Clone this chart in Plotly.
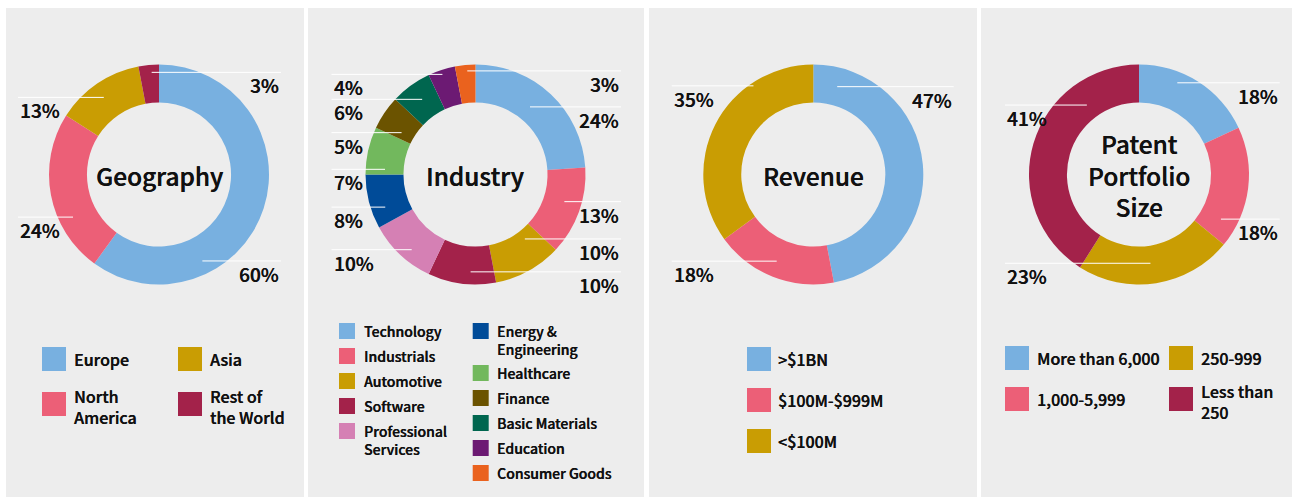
import math
import plotly.graph_objects as go

W, H = 1292, 497

# ---------------- data ----------------
geo_labels = ["Europe", "North America", "Asia", "Rest of the World"]
geo_values = [60, 24, 13, 3]

ind_labels = ["Technology", "Industrials", "Automotive", "Software", "Professional Services",
              "Energy & Engineering", "Healthcare", "Finance", "Basic Materials", "Education",
              "Consumer Goods"]
ind_values = [24, 13, 10, 10, 10, 8, 7, 5, 6, 4, 3]

rev_labels = [">$1BN", "$100M-$999M", "<$100M"]
rev_values = [47, 18, 35]

pat_labels = ["More than 6,000", "1,000-5,999", "250-999", "Less than 250"]
pat_values = [18, 18, 23, 41]

# legend wording (as wrapped in the design)
geo_legend_text = ["Europe", "North\nAmerica", "Asia", "Rest of\nthe World"]
ind_legend_text = ["Technology", "Industrials", "Automotive", "Software", "Professional\nServices",
                   "Energy &\nEngineering", "Healthcare", "Finance", "Basic Materials", "Education",
                   "Consumer Goods"]
rev_legend_text = [">$1BN", "$100M-$999M", "<$100M"]
pat_legend_text = ["More than 6,000", "1,000-5,999", "250-999", "Less than\n250"]

# ---------------- styles ----------------
BLUE, PINK, GOLD, MAROON = "#78B0E0", "#EC5F77", "#C99D03", "#A3224A"
LPINK, NAVY, GREEN, BROWN = "#D580B4", "#004B98", "#72B85D", "#6B5300"
DGREEN, PURPLE, ORANGE = "#00664F", "#6C1A73", "#EA621E"
PANEL_BG = "#EDEDED"
TXT = "#111111"
FONT = "Noto Sans CJK JP, Noto Sans, sans-serif"
SHADOW = "0.35px 0 0 #111111"   # slightly heavier (medium-like) strokes

R_OUT, HOLE = 110, 0.655
R_IN = R_OUT * HOLE

# label placement: (fraction along slice, fraction across ring, side)
panels = [
    dict(labels=geo_labels, values=geo_values, legend_text=geo_legend_text,
         colors=[BLUE, PINK, GOLD, MAROON], title=["Geography"],
         box=(6, 304), cx=159, cy=174.5, reach=(141, 122),
         place=[(0.71, 0.65, "R"), (0.32, 0.63, "L"), (0.47, 0.6, "L"), (0.62, 0.8, "R")],
         legend=dict(cols=[[0, 1], [2, 3]], colx=[42, 178], top=347, sq=24, pitch=45,
                     extra=0, font=16, gap=29.5, multi="center")),
    dict(labels=ind_labels, values=ind_values, legend_text=ind_legend_text,
         colors=[BLUE, PINK, GOLD, MAROON, LPINK, NAVY, GREEN, BROWN, DGREEN, PURPLE, ORANGE],
         title=["Industry"], box=(308, 644), cx=475.5, cy=174.5, reach=(144, 145.5),
         place=[(0.45, 0.39, "R"), (0.44, 0.55, "R"), (0.26, 0.24, "R"), (0.38, 0.67, "R"),
                (0.42, 0.7, "L"), (0.31, 0.63, "L"), (0.13, 0.49, "L"), (0.24, 0.34, "L"),
                (0.53, 0.53, "L"), (0.48, 0.88, "L"), (0.58, 0.84, "R")],
         legend=dict(cols=[[0, 1, 2, 3, 4], [5, 6, 7, 8, 9, 10]], colx=[339, 472.7], top=323,
                     sq=16, pitch=25, extra=17, font=14, gap=22.5, multi="top")),
    dict(labels=rev_labels, values=rev_values, legend_text=rev_legend_text,
         colors=[BLUE, PINK, GOLD], title=["Revenue"],
         box=(649, 977), cx=813.3, cy=174.5, reach=(141.6, 140.4),
         place=[(0.09, 0.5, "R"), (0.52, 0.58, "L"), (0.73, 0.92, "L")],
         legend=dict(cols=[[0, 1, 2]], colx=[747], top=347, sq=24, pitch=41,
                     extra=0, font=16, gap=29.5, multi="center")),
    dict(labels=pat_labels, values=pat_values, legend_text=pat_legend_text,
         colors=[BLUE, PINK, GOLD, MAROON], title=["Patent", "Portfolio", "Size"],
         box=(981, 1292), cx=1139, cy=174.5, reach=(134, 140.7),
         place=[(0.35, 0.72, "R"), (0.83, 0.56, "R"), (0.52, 0.46, "L"), (0.75, 0.39, "L")],
         legend=dict(cols=[[0, 1], [2, 3]], colx=[1005, 1169], top=346, sq=24, pitch=41,
                     extra=0, font=16, gap=29.5, multi="center")),
]


def px(x):
    return x / W


def py(y):
    return 1 - y / H


def tfont(size):
    return dict(size=size, color=TXT, family=FONT, weight=500, shadow=SHADOW)


fig = go.Figure()
shapes, annots = [], []

for p in panels:
    x0, x1 = p["box"]
    shapes.append(dict(type="rect", xref="paper", yref="paper", x0=px(x0), x1=px(x1),
                       y0=py(497), y1=py(8), fillcolor=PANEL_BG, line=dict(width=0),
                       layer="below"))
    cx, cy = p["cx"], p["cy"]
    fig.add_trace(go.Pie(
        labels=p["labels"], values=p["values"], sort=False, direction="clockwise",
        rotation=0, hole=HOLE, textinfo="none", showlegend=False,
        marker=dict(colors=p["colors"], line=dict(width=0)),
        domain=dict(x=[px(cx - R_OUT), px(cx + R_OUT)], y=[py(cy + R_OUT), py(cy - R_OUT)]),
        hovertemplate="%{label}: %{value}%<extra></extra>",
    ))

    # centre title
    annots.append(dict(text="<br>".join(p["title"]), x=px(cx), y=py(cy + 0.5), xref="paper",
                       yref="paper", xanchor="center", yanchor="middle", showarrow=False,
                       font=tfont(24.4)))

    # percentage labels with leader lines
    total = sum(p["values"])
    cum = 0
    for v, (fa, fr, side) in zip(p["values"], p["place"]):
        a0 = cum / total * 360
        a1 = (cum + v) / total * 360
        cum += v
        th = a0 + fa * (a1 - a0)
        r = R_IN + fr * (R_OUT - R_IN)
        ax = cx + r * math.sin(math.radians(th))
        ay = cy - r * math.cos(math.radians(th))
        right = side == "R"
        ex = cx + p["reach"][1] if right else cx - p["reach"][0]
        shapes.append(dict(type="line", xref="paper", yref="paper", x0=px(ax), x1=px(ex),
                           y0=py(ay), y1=py(ay), line=dict(color="white", width=1),
                           layer="above"))
        annots.append(dict(text=f"{v}%", x=px(ex), y=py(ay + 12.5), xref="paper",
                           yref="paper", xanchor="right" if right else "left",
                           yanchor="middle", showarrow=False, font=tfont(19)))

    # legend
    lg = p["legend"]
    f = lg["font"]
    for ci, col in enumerate(lg["cols"]):
        top = lg["top"]
        sx = lg["colx"][ci]
        for idx in col:
            lines = p["legend_text"][idx].split("\n")
            sq = lg["sq"]
            shapes.append(dict(type="rect", xref="paper", yref="paper", x0=px(sx),
                               x1=px(sx + sq), y0=py(top + sq), y1=py(top),
                               fillcolor=p["colors"][idx], line=dict(width=0)))
            sc = top + sq / 2
            nl = len(lines)
            if nl == 1:
                ly, yanc = sc, "middle"
            elif lg["multi"] == "top":
                ly, yanc = sc - 0.72 * f - 2, "top"
            else:
                block = 1.3 * f * (nl - 1) + 1.45 * f + 2
                ly, yanc = sc + 0.5 - block / 2, "top"
            annots.append(dict(text="<br>".join(lines), x=px(sx + lg["gap"]), y=py(ly),
                               xref="paper", yref="paper", xanchor="left", yanchor=yanc,
                               align="left", showarrow=False, font=tfont(f)))
            top += lg["pitch"] + lg["extra"] * (nl - 1)

fig.update_layout(
    width=W, height=H, margin=dict(l=0, r=0, t=0, b=0),
    paper_bgcolor="white", plot_bgcolor="white",
    font=dict(family=FONT, color=TXT),
    shapes=shapes, annotations=annots, showlegend=False,
)

fig.write_html("out.html", config={"displayModeBar": False},
               post_script="document.body.style.margin='0';document.body.style.overflow='hidden';")
